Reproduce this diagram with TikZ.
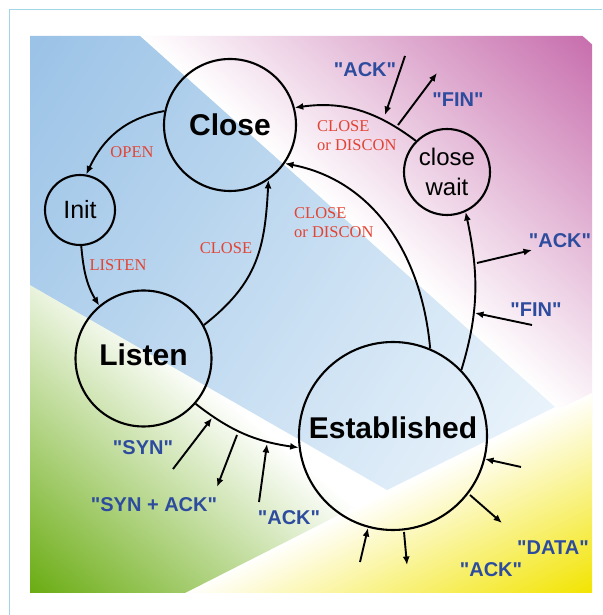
\documentclass[tikz,border=0pt]{standalone}
\usepackage{fontspec}
\newfontfamily\arialf{Liberation Sans}
\newfontfamily\timesf{Liberation Serif}
\usetikzlibrary{arrows.meta}
\definecolor{bluebg}{RGB}{152,193,230}
\definecolor{bluelt}{RGB}{238,246,252}
\definecolor{pinkbg}{RGB}{200,112,174}
\definecolor{greenbg}{RGB}{106,172,18}
\definecolor{yellowbg}{RGB}{242,228,0}
\definecolor{msgblue}{RGB}{46,76,158}
\definecolor{evred}{RGB}{226,68,52}
\definecolor{framec}{RGB}{160,214,228}
\begin{document}
\begin{tikzpicture}[x=1pt,y=1pt,
  state/.style={circle,draw=black,line width=2.1pt,inner sep=0pt},
  conn/.style={line width=1.9pt,-{Latex[length=8.5pt,width=7pt]}},
  msg/.style={line width=1.9pt,-{Latex[length=8.5pt,width=7pt]}},
  evt/.style={font=\timesf\fontsize{16.5}{19}\selectfont,text=evred,inner sep=0pt,align=left},
  pkt/.style={font=\arialf\bfseries\fontsize{20}{24}\selectfont,text=msgblue,inner sep=0pt},
  bigtxt/.style={font=\arialf\bfseries\fontsize{30}{36}\selectfont},
  smalltxt/.style={font=\arialf\fontsize{24}{30}\selectfont,align=center}]
\useasboundingbox (0,0) rectangle (602,615);
\fill[white] (0,0) rectangle (602,615);
\draw[framec,line width=1pt] (9,0) -- (9,605) -- (602,605);
% background regions
\fill[white] (30,22) rectangle (592,579);
\begin{scope}
  \clip (140,579) -- (592,579) -- (592,175) -- cycle;
  \begin{scope}[transform canvas={shift={(140,579)},rotate=-41.8}]
    \shade[bottom color=white,top color=pinkbg] (-100,0) rectangle (800,295);
  \end{scope}
\end{scope}
\begin{scope}
  \clip (185,22) -- (592,22) -- (592,222) -- cycle;
  \begin{scope}[transform canvas={shift={(592,22)},rotate=26.2}]
    \shade[bottom color=yellowbg,top color=white] (-500,0) rectangle (500,182);
  \end{scope}
\end{scope}
\begin{scope}
  \clip (30,330) -- (390,126) -- (185,22) -- (30,22) -- cycle;
  \begin{scope}[transform canvas={shift={(30,22)},rotate=-40}]
    \shade[bottom color=greenbg,top color=white] (-400,0) rectangle (400,275);
  \end{scope}
\end{scope}
\begin{scope}
  \clip (30,579) -- (140,579) -- (555,208) -- (387,125) -- (30,330) -- cycle;
  \begin{scope}[transform canvas={shift={(100,465)},rotate=-33.7}]
    \shade[left color=bluebg,right color=bluelt] (-140,-400) rectangle (560,400);
  \end{scope}
\end{scope}
% states
\node[state,bigtxt,minimum size=132pt] (close) at (230,490) {Close};
\node[state,font=\arialf\fontsize{25}{30}\selectfont,minimum size=70pt] (init) at (80,405) {Init};
\node[state,bigtxt,minimum size=136pt,text height=22pt,text depth=7pt] (listen) at (143.5,256.5) {Listen};
\node[state,bigtxt,minimum size=188pt,text height=22pt,text depth=16pt] (est) at (393,179) {Established};
\node[state,smalltxt,minimum size=86pt] (cwait) at (447,443) {close\\wait};
% transitions
\draw[conn] (close.168) to[out=190,in=65] (init.80);
\draw[conn] (init.272) to[out=275,in=121] (listen.130);
\draw[conn] (listen.29) to[out=38,in=267,looseness=1.1] (close.305);
\draw[conn] (est.67) to[out=95,in=-11] (close.325);
\draw[conn] (est.44) to[out=73,in=282] (cwait.295);
\draw[conn] (cwait.135) to[out=143,in=8] (close.15);
\draw[conn] (listen.319) to[out=-38,in=172] (est.187);
% event labels
\node[evt] (lopen) at (132,463) {OPEN};
\node[evt] (llisten) at (118,350) {LISTEN};
\node[evt] (lclose) at (226,367) {CLOSE};
\node[evt,anchor=west] (ldisc1) at (317,479.5) {CLOSE\\or DISCON};
\node[evt,anchor=west] (ldisc2) at (294,392.5) {CLOSE\\or DISCON};
% message arrows
\coordinate (m1a) at (405,559); \coordinate (m1b) at (385,500);
\coordinate (m2a) at (398,490); \coordinate (m2b) at (437,542);
\coordinate (m3a) at (477,352); \coordinate (m3b) at (532,365);
\coordinate (m4a) at (532,290); \coordinate (m4b) at (475,302);
\coordinate (m5a) at (173,146); \coordinate (m5b) at (212,197);
\coordinate (m6a) at (237,180); \coordinate (m6b) at (217,128);
\coordinate (m7a) at (259,113); \coordinate (m7b) at (267,171);
\coordinate (m8a) at (521,148); \coordinate (m8b) at (485,156);
\coordinate (m9a) at (470,120); \coordinate (m9b) at (502,92);
\coordinate (m10a) at (360,53); \coordinate (m10b) at (368,87);
\coordinate (m11a) at (404,83); \coordinate (m11b) at (407,50);
\foreach \i in {1,...,11} {\draw[msg] (m\i a) -- (m\i b);}
% packet labels
\node[pkt] (pack1) at (365,545) {"ACK"};
\node[pkt] (pfin1) at (458,515) {"FIN"};
\node[pkt] (pack2) at (560,374) {"ACK"};
\node[pkt] (pfin2) at (536,305) {"FIN"};
\node[pkt] (psyn) at (143,167) {"SYN"};
\node[pkt] (psynack) at (154,110) {"SYN + ACK"};
\node[pkt] (pack3) at (289,97) {"ACK"};
\node[pkt] (pdata) at (553,67) {"DATA"};
\node[pkt] (pack4) at (491,45) {"ACK"};
\end{tikzpicture}
\end{document}
